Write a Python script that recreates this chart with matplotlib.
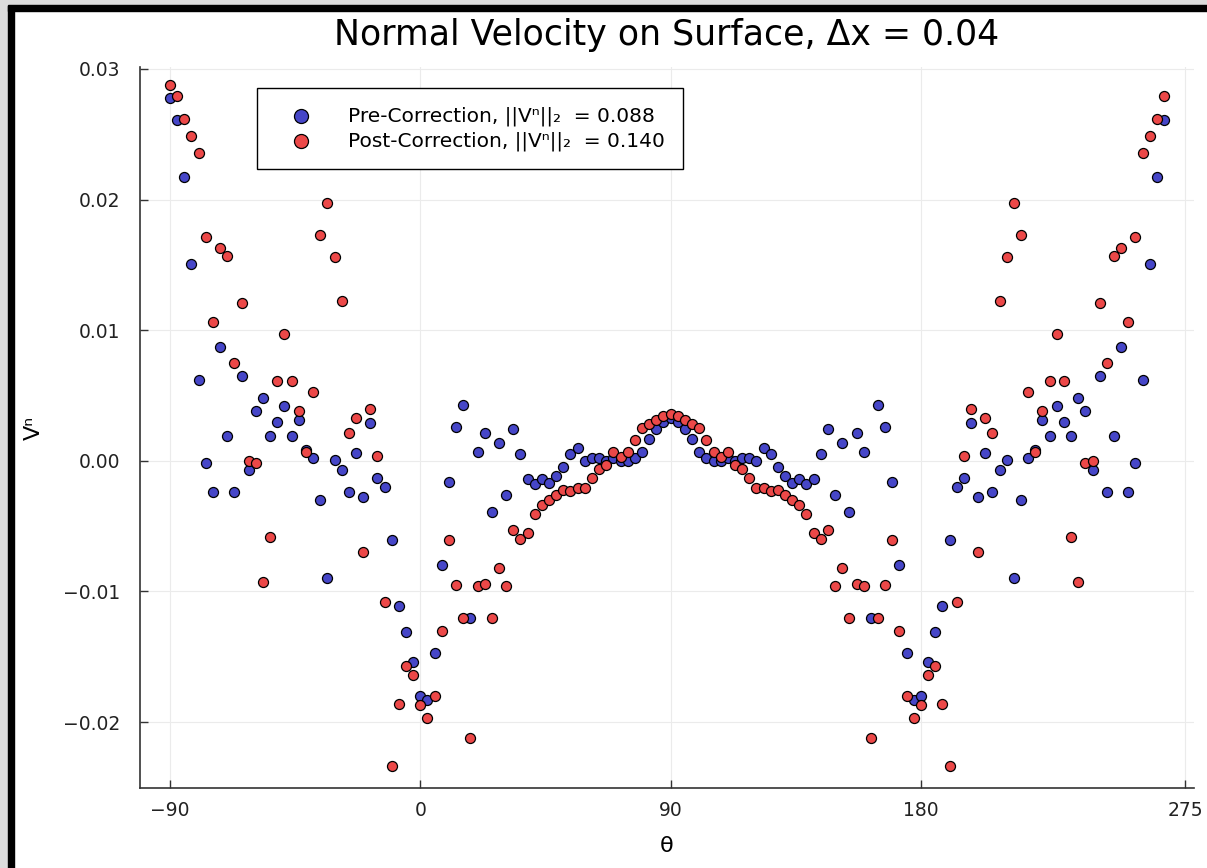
import numpy as np
import matplotlib
matplotlib.use("Agg")
import matplotlib.pyplot as plt
from matplotlib.patches import Rectangle

# surface angle of each sample point (deg), 140 points round the body
theta = [
    -90.00, -87.43, -84.86, -82.29, -79.71, -77.14, -74.57, -72.00, -69.43, -66.86,
    -64.29, -61.71, -59.14, -56.57, -54.00, -51.43, -48.86, -46.29, -43.71, -41.14,
    -38.57, -36.00, -33.43, -30.86, -28.29, -25.71, -23.14, -20.57, -18.00, -15.43,
    -12.86, -10.29, -7.71, -5.14, -2.57, 0.00, 2.57, 5.14, 7.71, 10.29,
    12.86, 15.43, 18.00, 20.57, 23.14, 25.71, 28.29, 30.86, 33.43, 36.00,
    38.57, 41.14, 43.71, 46.29, 48.86, 51.43, 54.00, 56.57, 59.14, 61.71,
    64.29, 66.86, 69.43, 72.00, 74.57, 77.14, 79.71, 82.29, 84.86, 87.43,
    90.00, 92.57, 95.14, 97.71, 100.29, 102.86, 105.43, 108.00, 110.57, 113.14,
    115.71, 118.29, 120.86, 123.43, 126.00, 128.57, 131.14, 133.71, 136.29, 138.86,
    141.43, 144.00, 146.57, 149.14, 151.71, 154.29, 156.86, 159.43, 162.00, 164.57,
    167.14, 169.71, 172.29, 174.86, 177.43, 180.00, 182.57, 185.14, 187.71, 190.29,
    192.86, 195.43, 198.00, 200.57, 203.14, 205.71, 208.29, 210.86, 213.43, 216.00,
    218.57, 221.14, 223.71, 226.29, 228.86, 231.43, 234.00, 236.57, 239.14, 241.71,
    244.29, 246.86, 249.43, 252.00, 254.57, 257.14, 259.71, 262.29, 264.86, 267.43,
]

# normal velocity before the correction step
pre = [
    0.0278, 0.0261, 0.0217, 0.0151, 0.0062, -0.0002, -0.0024, 0.0087, 0.0019, -0.0024,
    0.0065, -0.0007, 0.0038, 0.0048, 0.0019, 0.0030, 0.0042, 0.0019, 0.0031, 0.0008,
    0.0002, -0.0030, -0.0090, 0.0001, -0.0007, -0.0024, 0.0006, -0.0028, 0.0029, -0.0013,
    -0.0020, -0.0061, -0.0111, -0.0131, -0.0154, -0.0180, -0.0183, -0.0147, -0.0080, -0.0016,
    0.0026, 0.0043, -0.0120, 0.0007, 0.0021, -0.0039, 0.0014, -0.0026, 0.0024, 0.0005,
    -0.0014, -0.0018, -0.0014, -0.0017, -0.0012, -0.0005, 0.0005, 0.0010, 0.0000, 0.0002,
    0.0002, 0.0000, 0.0002, 0.0000, 0.0000, 0.0002, 0.0007, 0.0017, 0.0024, 0.0030,
    0.0033, 0.0030, 0.0024, 0.0017, 0.0007, 0.0002, 0.0000, 0.0000, 0.0002, 0.0000,
    0.0002, 0.0002, 0.0000, 0.0010, 0.0005, -0.0005, -0.0012, -0.0017, -0.0014, -0.0018,
    -0.0014, 0.0005, 0.0024, -0.0026, 0.0014, -0.0039, 0.0021, 0.0007, -0.0120, 0.0043,
    0.0026, -0.0016, -0.0080, -0.0147, -0.0183, -0.0180, -0.0154, -0.0131, -0.0111, -0.0061,
    -0.0020, -0.0013, 0.0029, -0.0028, 0.0006, -0.0024, -0.0007, 0.0001, -0.0090, -0.0030,
    0.0002, 0.0008, 0.0031, 0.0019, 0.0042, 0.0030, 0.0019, 0.0048, 0.0038, -0.0007,
    0.0065, -0.0024, 0.0019, 0.0087, -0.0024, -0.0002, 0.0062, 0.0151, 0.0217, 0.0261,
]

# normal velocity after the correction step
post = [
    0.0288, 0.0279, 0.0262, 0.0249, 0.0236, 0.0171, 0.0106, 0.0163, 0.0157, 0.0075,
    0.0121, 0.0000, -0.0002, -0.0093, -0.0058, 0.0061, 0.0097, 0.0061, 0.0038, 0.0007,
    0.0053, 0.0173, 0.0197, 0.0156, 0.0122, 0.0021, 0.0033, -0.0070, 0.0040, 0.0004,
    -0.0108, -0.0234, -0.0186, -0.0157, -0.0164, -0.0187, -0.0197, -0.0180, -0.0130, -0.0061,
    -0.0095, -0.0120, -0.0212, -0.0096, -0.0094, -0.0120, -0.0082, -0.0096, -0.0053, -0.0060,
    -0.0055, -0.0041, -0.0034, -0.0030, -0.0026, -0.0022, -0.0023, -0.0021, -0.0021, -0.0013,
    -0.0006, -0.0003, 0.0007, 0.0003, 0.0007, 0.0016, 0.0025, 0.0028, 0.0031, 0.0034,
    0.0036, 0.0034, 0.0031, 0.0028, 0.0025, 0.0016, 0.0007, 0.0003, 0.0007, -0.0003,
    -0.0006, -0.0013, -0.0021, -0.0021, -0.0023, -0.0022, -0.0026, -0.0030, -0.0034, -0.0041,
    -0.0055, -0.0060, -0.0053, -0.0096, -0.0082, -0.0120, -0.0094, -0.0096, -0.0212, -0.0120,
    -0.0095, -0.0061, -0.0130, -0.0180, -0.0197, -0.0187, -0.0164, -0.0157, -0.0186, -0.0234,
    -0.0108, 0.0004, 0.0040, -0.0070, 0.0033, 0.0021, 0.0122, 0.0156, 0.0197, 0.0173,
    0.0053, 0.0007, 0.0038, 0.0061, 0.0097, 0.0061, -0.0058, -0.0093, -0.0002, 0.0000,
    0.0121, 0.0075, 0.0157, 0.0163, 0.0106, 0.0171, 0.0236, 0.0249, 0.0262, 0.0279,
]

pre_norm = 0.088
post_norm = 0.140

xticks = [-90, 0, 90, 180, 275]
yticks = [-0.02, -0.01, 0.00, 0.01, 0.02, 0.03]

W, H = 1207, 868
fig = plt.figure(figsize=(W / 100, H / 100), dpi=100)
ax = fig.add_axes([140 / W, 1 - 788 / H, (1194 - 140) / W, (788 - 67) / H])

# screenshot frame: grey margin and thick black border on left/top
fig.add_artist(Rectangle((0, 0), 8 / W, 1, transform=fig.transFigure,
                         color="#dcdcdc", zorder=10))
fig.add_artist(Rectangle((8 / W, 0), 6 / W, 1 - 5 / H, transform=fig.transFigure,
                         color="black", zorder=10))
fig.add_artist(Rectangle((0, 1 - 5 / H), 1, 5 / H, transform=fig.transFigure,
                         color="#dcdcdc", zorder=10))
fig.add_artist(Rectangle((8 / W, 1 - 11 / H), 1, 6 / H, transform=fig.transFigure,
                         color="black", zorder=10))

blue = "#4646c8"
red = "#ec4848"

ax.scatter(theta, pre, s=52, color=blue, edgecolors="black", linewidths=0.9,
           label=f"Pre-Correction, ||Vⁿ||₂  = {pre_norm:.3f}", zorder=3)
ax.scatter(theta, post, s=52, color=red, edgecolors="black", linewidths=0.9,
           label=f"Post-Correction, ||Vⁿ||₂  = {post_norm:.3f}", zorder=4)

ax.set_xlim(-100.8, 278.2)
ax.set_ylim(-0.02505, 0.03015)
ax.set_xticks(xticks)
ax.set_xticklabels([str(t).replace("-", "\u2212") for t in xticks])
ax.set_yticks(yticks)
ax.set_yticklabels([f"{t:.2f}".replace("-", "\u2212") for t in yticks])

ax.grid(True, color="#ebebeb", linewidth=0.8)
ax.set_axisbelow(True)
for side in ["top", "right"]:
    ax.spines[side].set_visible(False)
for side in ["left", "bottom"]:
    ax.spines[side].set_color("#333333")
    ax.spines[side].set_linewidth(1.2)
ax.tick_params(direction="in", length=6, width=1, colors="#333333",
               labelsize=13.5, labelcolor="#222222")
ax.tick_params(axis="x", pad=9)
ax.tick_params(axis="y", pad=14)

ax.set_title("Normal Velocity on Surface, Δx = 0.04", fontsize=25, pad=16)
ax.set_xlabel("θ", fontsize=16, labelpad=12)
ax.set_ylabel("Vⁿ", fontsize=16, labelpad=14)

leg = ax.legend(loc="upper left", bbox_to_anchor=(0.111, 0.971), borderaxespad=0,
                fontsize=14.5, frameon=True, fancybox=False, framealpha=1,
                edgecolor="black", markerscale=1.4, borderpad=0.9,
                handlelength=2.6, handletextpad=1.0, labelspacing=0.3)
leg.get_frame().set_linewidth(1.0)

fig.savefig("out.png", dpi=100)
